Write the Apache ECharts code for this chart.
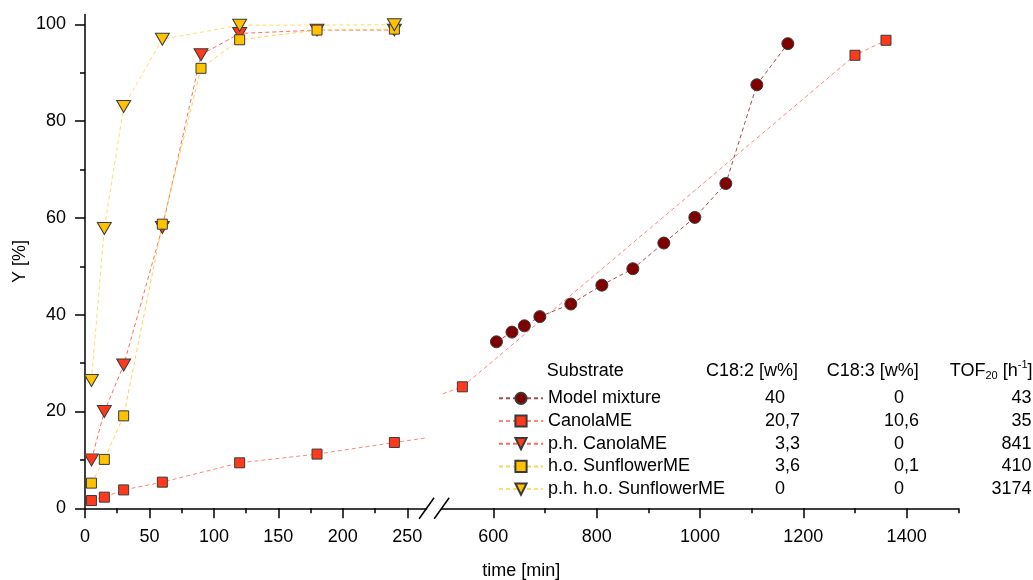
<!DOCTYPE html>
<html>
<head>
<meta charset="utf-8">
<script src="https://cdn.jsdelivr.net/npm/echarts@6/dist/echarts.min.js"></script>
<style>
html,body{margin:0;padding:0;background:#fff;}
#c{width:1033px;height:580px;}
</style>
</head>
<body>
<div id="c"></div>
<script>
// ---- data ----
const seriesNames = ['Model mixture', 'CanolaME', 'p.h. CanolaME', 'h.o. SunflowerME', 'p.h. h.o. SunflowerME'];
const c182Values = ['40', '20,7', '3,3', '3,6', '0'];
const c183Values = ['0', '10,6', '0', '0,1', '0'];
const tofValues = ['43', '35', '841', '410', '3174'];

const modelTime = [606, 636, 660, 690, 750, 810, 870, 930, 990, 1050, 1110, 1170];
const modelY = [34.4, 36.4, 37.7, 39.6, 42.2, 46.1, 49.5, 54.8, 60.1, 67.1, 87.5, 96.0];
const canolaTime = [5, 15, 30, 60, 120, 180, 240, 540, 1300, 1360];
const canolaY = [1.6, 2.3, 3.8, 5.4, 9.4, 11.2, 13.6, 25.1, 93.6, 96.7];
const phCanolaTime = [5, 15, 30, 60, 90, 120, 180, 240];
const phCanolaY = [10.0, 20.0, 29.6, 58.0, 93.7, 98.1, 98.8, 98.8];
const hoSunTime = [5, 15, 30, 60, 90, 120, 180, 240];
const hoSunY = [5.2, 10.1, 19.1, 58.7, 90.9, 96.8, 98.8, 99.0];
const phHoSunTime = [5, 15, 30, 60, 120, 240];
const phHoSunY = [26.4, 57.8, 83.0, 96.9, 99.8, 99.9];

const yMajorTicks = [0, 20, 40, 60, 80, 100];
const yMinorTicks = [10, 30, 50, 70, 90];
const xLeftMajor = [0, 50, 100, 150, 200, 250];
const xLeftMinor = [25, 75, 125, 175, 225];
const xRightMajor = [600, 800, 1000, 1200, 1400];
const xRightMinor = [700, 900, 1100, 1300, 1500];

function pairs(xs, ys) { return xs.map((x, i) => [x, ys[i]]); }

const FONT = 'Liberation Sans, Arial, sans-serif';
const axisCol = '#000';

const styles = {
  'Model mixture': {symbol: 'circle', size: 12, rot: 0, fill: '#7f0000', line: '#a05050'},
  'CanolaME': {symbol: 'rect', size: 10, rot: 0, fill: '#ff3a1c', line: '#ff8878'},
  'p.h. CanolaME': {symbol: 'triangle', size: [14, 12], rot: 180, fill: '#ff3a1c', line: '#ff6d5c'},
  'h.o. SunflowerME': {symbol: 'rect', size: 10, rot: 0, fill: '#ffc200', line: '#ffd25a'},
  'p.h. h.o. SunflowerME': {symbol: 'triangle', size: [14, 12], rot: 180, fill: '#ffc200', line: '#ffdd6e'}
};

function mkSeries(name, data, grid) {
  const s = styles[name];
  return {
    name: name, type: 'line', data: data,
    xAxisIndex: grid === 0 ? 0 : 2, yAxisIndex: grid === 0 ? 0 : 2,
    clip: true, symbol: s.symbol, symbolSize: s.size, symbolRotate: s.rot,
    lineStyle: {color: s.line, width: 1, type: [4, 3]},
    itemStyle: {color: s.fill, borderColor: '#3a3a3a', borderWidth: 1},
    emphasis: {disabled: true}
  };
}

const gridTop = 14.6, gridH = 493.7;
const chart = echarts.init(document.getElementById('c'), null, {renderer: 'canvas'});

const labelStyle = {fontSize: 18, color: '#000', fontFamily: FONT, formatter: function (v) { return String(v); }};

const option = {
  animation: false,
  backgroundColor: '#fff',
  textStyle: {fontFamily: FONT},
  grid: [
    {left: 85, top: gridTop, width: 341.6, height: gridH},
    {left: 441.7, top: gridTop, width: 516.6, height: gridH}
  ],
  xAxis: [
    {type: 'value', gridIndex: 0, min: 0, max: 265, position: 'bottom',
     axisLine: {onZero: false, lineStyle: {color: axisCol, width: 1.5}},
     axisTick: {customValues: xLeftMajor, length: 10, lineStyle: {color: axisCol, width: 1.5}},
     axisLabel: Object.assign({customValues: xLeftMajor, margin: 20}, labelStyle),
     splitLine: {show: false}},
    {type: 'value', gridIndex: 0, min: 0, max: 265, position: 'bottom',
     axisLine: {show: false, onZero: false},
     axisTick: {customValues: xLeftMinor, length: 5, lineStyle: {color: axisCol, width: 1.5}},
     axisLabel: {show: false}, splitLine: {show: false}},
    {type: 'value', gridIndex: 1, min: 500, max: 1500, position: 'bottom',
     axisLine: {onZero: false, lineStyle: {color: axisCol, width: 1.5}},
     axisTick: {customValues: xRightMajor, length: 10, lineStyle: {color: axisCol, width: 1.5}},
     axisLabel: Object.assign({customValues: xRightMajor, margin: 20}, labelStyle),
     splitLine: {show: false}},
    {type: 'value', gridIndex: 1, min: 500, max: 1500, position: 'bottom',
     axisLine: {show: false, onZero: false},
     axisTick: {customValues: xRightMinor, length: 5, lineStyle: {color: axisCol, width: 1.5}},
     axisLabel: {show: false}, splitLine: {show: false}}
  ],
  yAxis: [
    {type: 'value', gridIndex: 0, min: 0, max: 102, position: 'left',
     name: 'Y [%]', nameLocation: 'middle', nameRotate: 90, nameGap: 56,
     nameTextStyle: {fontSize: 18, color: '#000', fontFamily: FONT},
     axisLine: {show: true, onZero: false, lineStyle: {color: axisCol, width: 1.5}},
     axisTick: {show: true, customValues: yMajorTicks, length: 10, lineStyle: {color: axisCol, width: 1.5}},
     axisLabel: Object.assign({customValues: yMajorTicks, margin: 19}, labelStyle),
     splitLine: {show: false}},
    {type: 'value', gridIndex: 0, min: 0, max: 102, position: 'left',
     axisLine: {show: false, onZero: false},
     axisTick: {show: true, customValues: yMinorTicks, length: 5, lineStyle: {color: axisCol, width: 1.5}},
     axisLabel: {show: false}, splitLine: {show: false}},
    {type: 'value', gridIndex: 1, min: 0, max: 102, show: false,
     axisLine: {show: false}, axisTick: {show: false}, axisLabel: {show: false}, splitLine: {show: false}}
  ],
  legend: {
    data: seriesNames, orient: 'vertical', left: 498, top: 389.3, padding: 0,
    itemWidth: 44, itemHeight: 14, itemGap: 4.7,
    textStyle: {fontSize: 18, color: '#000', fontFamily: FONT, lineHeight: 18},
    selectedMode: false
  },
  series: [
    mkSeries('CanolaME', pairs(canolaTime, canolaY), 0),
    mkSeries('p.h. CanolaME', pairs(phCanolaTime, phCanolaY), 0),
    mkSeries('h.o. SunflowerME', pairs(hoSunTime, hoSunY), 0),
    mkSeries('p.h. h.o. SunflowerME', pairs(phHoSunTime, phHoSunY), 0),
    mkSeries('Model mixture', pairs(modelTime, modelY), 1),
    mkSeries('CanolaME', pairs(canolaTime, canolaY), 1)
  ]
};
chart.setOption(option);

// ---- decorations: axis break, axis title, legend table ----
const yBase = chart.convertToPixel({yAxisIndex: 0}, 0);
const xLeftEnd = chart.convertToPixel({xAxisIndex: 0}, 265);
const xRightStart = chart.convertToPixel({xAxisIndex: 2}, 500);
const g = [];
[xLeftEnd, xRightStart].forEach(function (x) {
  g.push({type: 'line', z: 100, shape: {x1: x - 7.5, y1: yBase + 10.5, x2: x + 7.5, y2: yBase - 10.5},
          style: {stroke: '#000', lineWidth: 1.5}});
});
g.push({type: 'text', z: 100, x: (xLeftEnd + xRightStart) / 2 + 87, y: 571,
        style: {text: 'time [min]', fontSize: 18, fill: '#000', fontFamily: FONT, align: 'center', verticalAlign: 'middle'}});

const headerY = 370.7, rowY0 = 398.3, rowDy = 22.7;
const col182 = 785, col183 = 904, colTof = 1031.5;
g.push({type: 'text', x: 546.7, y: headerY, style: {text: 'Substrate', fontSize: 18, fill: '#000', fontFamily: FONT, verticalAlign: 'middle'}});
g.push({type: 'text', x: 706, y: headerY, style: {text: 'C18:2 [w%]', fontSize: 18, fill: '#000', fontFamily: FONT, verticalAlign: 'middle'}});
g.push({type: 'text', x: 826.7, y: headerY, style: {text: 'C18:3 [w%]', fontSize: 18, fill: '#000', fontFamily: FONT, verticalAlign: 'middle'}});
g.push({type: 'text', x: colTof + 1, y: headerY, style: {
  text: '{n|TOF}{s|20}{n| [h}{p|-1}{n|]}', align: 'right', verticalAlign: 'middle', fontFamily: FONT,
  rich: {
    n: {fontSize: 18, fill: '#000', fontFamily: FONT, lineHeight: 22, verticalAlign: 'middle'},
    s: {fontSize: 11, fill: '#000', fontFamily: FONT, lineHeight: 22, verticalAlign: 'bottom'},
    p: {fontSize: 11, fill: '#000', fontFamily: FONT, lineHeight: 22, verticalAlign: 'top'}
  }}});

function decimalCell(str, xDec, y) {
  const parts = str.split(',');
  g.push({type: 'text', x: xDec, y: y, style: {text: parts[0], fontSize: 18, fill: '#000', fontFamily: FONT, align: 'right', verticalAlign: 'middle'}});
  if (parts.length > 1) {
    g.push({type: 'text', x: xDec, y: y, style: {text: ',' + parts[1], fontSize: 18, fill: '#000', fontFamily: FONT, align: 'left', verticalAlign: 'middle'}});
  }
}
seriesNames.forEach(function (n, i) {
  const y = rowY0 + i * rowDy;
  decimalCell(c182Values[i], col182, y);
  decimalCell(c183Values[i], col183, y);
  g.push({type: 'text', x: colTof, y: y, style: {text: tofValues[i], fontSize: 18, fill: '#000', fontFamily: FONT, align: 'right', verticalAlign: 'middle'}});
});
chart.setOption({graphic: g});
</script>
</body>
</html>
